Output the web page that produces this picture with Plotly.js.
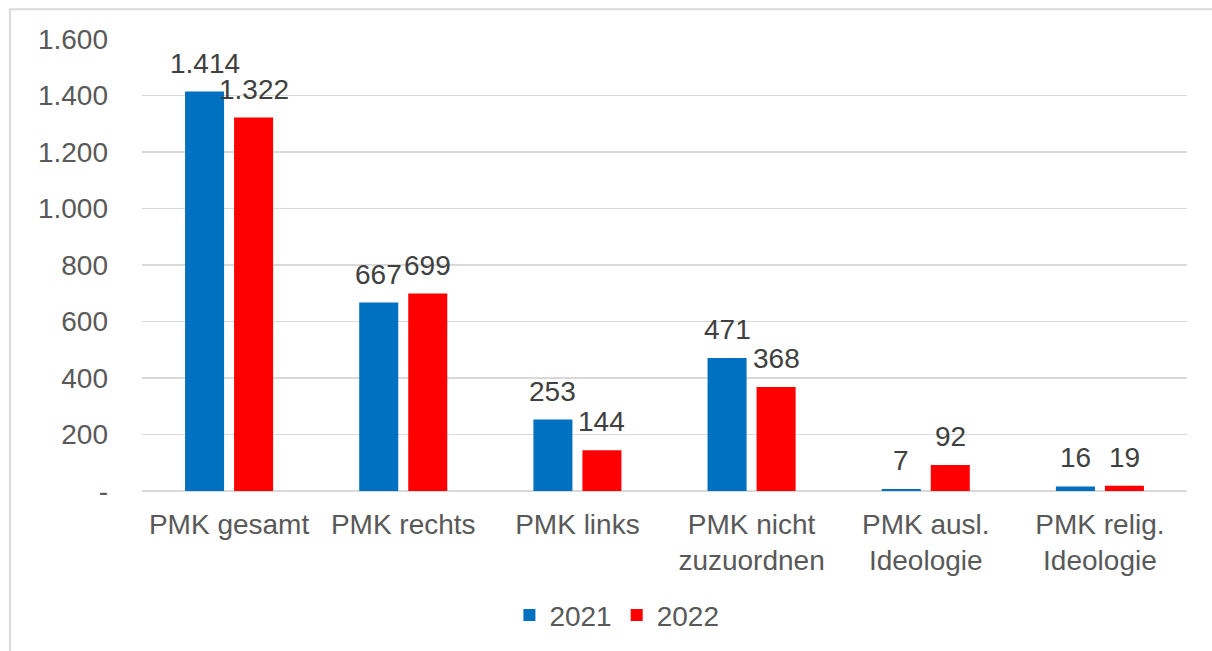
<!DOCTYPE html>
<html>
<head>
<meta charset="utf-8">
<script src="https://cdn.plot.ly/plotly-3.0.1.min.js"></script>
<style>html,body{margin:0;padding:0;background:#fff;}#chart{width:1212px;height:651px;}</style>
</head>
<body>
<div id="chart"></div>
<script>
const categories = ["PMK gesamt", "PMK rechts", "PMK links", "PMK nicht<br>zuzuordnen", "PMK ausl.<br>Ideologie", "PMK relig.<br>Ideologie"];
const values2021 = [1414, 667, 253, 471, 7, 16];
const values2022 = [1322, 699, 144, 368, 92, 19];
const seriesNames = ["2021", "2022"];
const yTickVals = [0, 200, 400, 600, 800, 1000, 1200, 1400, 1600];
const yTickText = ["-", "200", "400", "600", "800", "1.000", "1.200", "1.400", "1.600"];

const fmt = v => v >= 1000 ? String(v).replace(/\B(?=(\d{3})+(?!\d))/g, ".") : String(v);
const FONT = "Liberation Sans, Arial, sans-serif";

const mk = (name, vals, color) => ({
  type: "bar", name: name, x: categories, y: vals,
  marker: {color: color},
  hoverinfo: "none"
});

const data = [mk(seriesNames[0], values2021, "#0070C0"), mk(seriesNames[1], values2022, "#FF0000")];

const annotations = [];
[values2021, values2022].forEach((vals, i) => {
  vals.forEach((v, j) => {
    annotations.push({
      x: categories[j], y: v, xref: "x", yref: "y",
      xshift: i === 0 ? -24.5 : 24.5, yshift: 11,
      text: fmt(v), showarrow: false, yanchor: "bottom", xanchor: "center",
      font: {family: FONT, size: 28, color: "#404040"}
    });
  });
});

const layout = {
  width: 1212, height: 651,
  margin: {l: 142, r: 25, t: 39, b: 160},
  paper_bgcolor: "#fff", plot_bgcolor: "#fff",
  font: {family: FONT, size: 28, color: "#595959"},
  barmode: "group", bargap: 0.437, bargroupgap: 0.204,
  xaxis: {showgrid: false, showline: false, zeroline: false, ticks: "", ticklabelstandoff: 14,
          tickfont: {size: 28, color: "#595959"}, fixedrange: true},
  yaxis: {range: [0, 1600], tickvals: yTickVals, ticktext: yTickText, showgrid: true, gridcolor: "#d9d9d9", gridwidth: 1.5,
          zeroline: true, zerolinecolor: "#d9d9d9", zerolinewidth: 1.5, showline: false, ticks: "", ticklabelstandoff: 33,
          tickfont: {size: 28, color: "#595959"}, fixedrange: true},
  showlegend: true,
  legend: {orientation: "h", xref: "container", x: 0.509, xanchor: "center", yref: "container", y: 0.055, yanchor: "middle",
           font: {size: 28, color: "#595959"}, itemwidth: 30, traceorder: "normal"},
  annotations: annotations,
  shapes: [{type: "rect", xref: "paper", yref: "paper", x0: -0.1263, x1: 1.2, y0: -0.6, y1: 1.066,
            line: {color: "#d9d9d9", width: 2}, fillcolor: "rgba(0,0,0,0)", layer: "below"}]
};

Plotly.newPlot("chart", data, layout, {displayModeBar: false, staticPlot: true});
</script>
</body>
</html>
